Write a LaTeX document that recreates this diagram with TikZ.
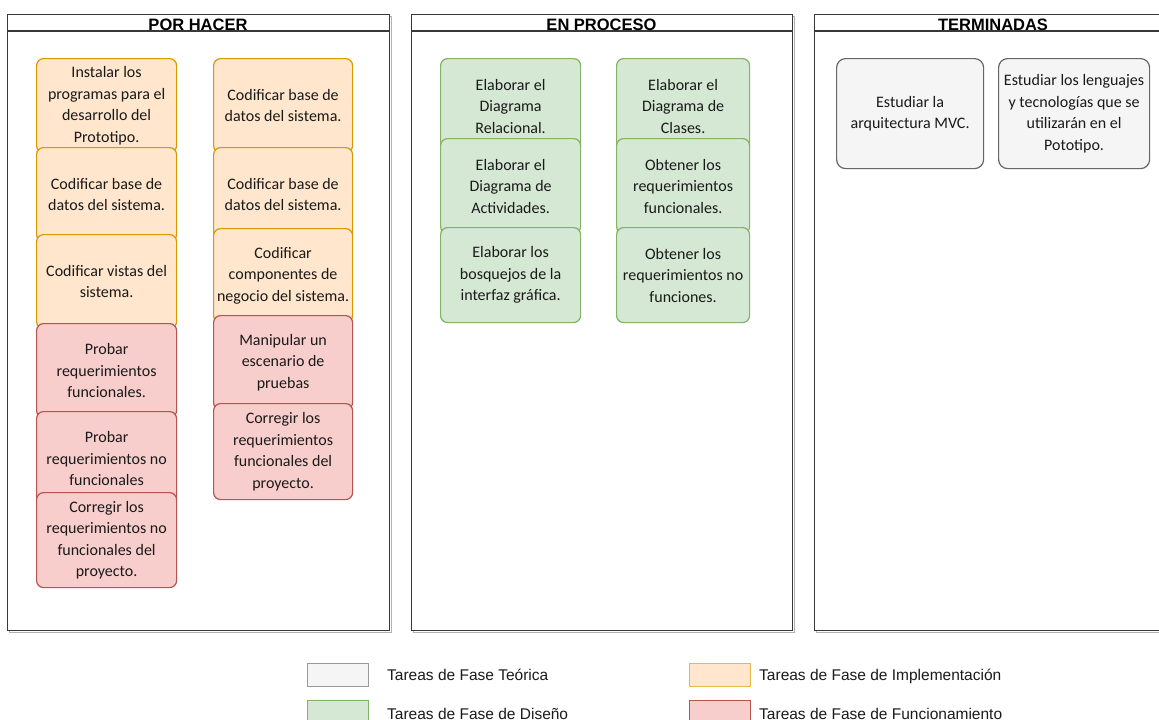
\documentclass[tikz,border=0pt]{standalone}
\usepackage{fontspec}
\setmainfont{Carlito}
\newfontfamily\arialf{Liberation Sans}
\definecolor{impF}{HTML}{FFE6CC}\definecolor{impD}{HTML}{D79B00}
\definecolor{desF}{HTML}{D5E8D4}\definecolor{desD}{HTML}{82B366}
\definecolor{funF}{HTML}{F8CECC}\definecolor{funD}{HTML}{B85450}
\definecolor{teoF}{HTML}{F5F5F5}\definecolor{teoD}{HTML}{666666}
\definecolor{txt}{HTML}{1A1A1A}
\tikzset{
  card/.style={rounded corners=7pt, line width=1.2pt, inner sep=0pt, align=center,
    anchor=north west, text=txt, font=\fontsize{16}{21.5}\selectfont},
  impl/.style={card, fill=impF, draw=impD},
  desi/.style={card, fill=desF, draw=desD},
  func/.style={card, fill=funF, draw=funD},
  teo/.style={card, fill=teoF, draw=teoD, rounded corners=9pt},
  panel/.style={draw=black!78, line width=1.1pt, fill=white, inner sep=0pt, anchor=north west},
  shadowp/.style={draw=black!30, line width=1.2pt, inner sep=0pt, anchor=north west},
  head/.style={font=\arialf\bfseries\fontsize{16.5}{18}\selectfont, anchor=base, inner sep=0pt},
  swatch/.style={line width=1pt, inner sep=0pt, anchor=north west, minimum width=61pt, minimum height=23pt},
  legtxt/.style={font=\arialf\fontsize{15.5}{18}\selectfont, anchor=base west, inner sep=0pt, text=txt},
}
\begin{document}
\begin{tikzpicture}[x=1pt,y=-1pt]
\useasboundingbox (0,0) rectangle (1159,720);
\clip (0,0) rectangle (1159,720);
% panels
\node[shadowp, minimum width=382pt, minimum height=616pt] (shA) at (8.5,15.5) {};
\node[shadowp, minimum width=381pt, minimum height=616pt] (shB) at (412.5,15.5) {};
\node[shadowp, minimum width=358pt, minimum height=616pt] (shC) at (815.5,15.5) {};
\node[panel, minimum width=382pt, minimum height=616pt] (colA) at (7,14) {};
\node[panel, minimum width=381pt, minimum height=616pt] (colB) at (411,14) {};
\node[panel, minimum width=358pt, minimum height=616pt] (colC) at (814,14) {};
\coordinate (hA1) at (7,31); \coordinate (hA2) at (389,31);
\coordinate (hB1) at (411,31); \coordinate (hB2) at (792,31);
\coordinate (hC1) at (814,31); \coordinate (hC2) at (1172,31);
\draw[draw=black!78, line width=1.1pt] (hA1) -- (hA2);
\draw[draw=black!78, line width=1.1pt] (hB1) -- (hB2);
\draw[draw=black!78, line width=1.1pt] (hC1) -- (hC2);
\node[head] (tA) at (198,30) {POR HACER};
\node[head] (tB) at (601.5,30) {EN PROCESO};
\node[head] (tC) at (993,30) {TERMINADAS};
% POR HACER col 1
\node[impl, minimum width=140pt, minimum height=94pt] (a1) at (36,58) {Instalar los\\programas para el\\desarrollo del\\Prototipo.};
\node[impl, minimum width=140pt, minimum height=94pt] (a2) at (36,147) {Codificar base de\\datos del sistema.};
\node[impl, minimum width=140pt, minimum height=94pt] (a3) at (36,234) {Codificar vistas del\\sistema.};
\node[func, minimum width=140pt, minimum height=94pt] (a4) at (36,323) {Probar\\requerimientos\\funcionales.};
\node[func, minimum width=140pt, minimum height=94pt] (a5) at (36,411) {Probar\\requerimientos no\\funcionales};
\node[func, minimum width=140pt, minimum height=95pt] (a6) at (36,492) {Corregir los\\requerimientos no\\funcionales del\\proyecto.};
% POR HACER col 2
\node[impl, minimum width=139pt, minimum height=94pt] (b1) at (213,58) {Codificar base de\\datos del sistema.};
\node[impl, minimum width=139pt, minimum height=94pt] (b2) at (213,147) {Codificar base de\\datos del sistema.};
\node[impl, minimum width=139pt, minimum height=94pt] (b3) at (213,228) {Codificar\\componentes de\\negocio del sistema.};
\node[func, minimum width=139pt, minimum height=94pt] (b4) at (213,315) {Manipular un\\escenario de\\pruebas};
\node[func, minimum width=139pt, minimum height=96pt] (b5) at (213,403) {Corregir los\\requerimientos\\funcionales del\\proyecto.};
% EN PROCESO
\node[desi, minimum width=140pt, minimum height=95pt] (c1) at (440,58) {Elaborar el\\Diagrama\\Relacional.};
\node[desi, minimum width=140pt, minimum height=95pt] (c2) at (440,138) {Elaborar el\\Diagrama de\\Actividades.};
\node[desi, minimum width=140pt, minimum height=95pt] (c3) at (440,227) {Elaborar los\\bosquejos de la\\interfaz gráfica.};
\node[desi, minimum width=133pt, minimum height=95pt] (d1) at (616,58) {Elaborar el\\Diagrama de\\Clases.};
\node[desi, minimum width=133pt, minimum height=95pt] (d2) at (616,138) {Obtener los\\requerimientos\\funcionales.};
\node[desi, minimum width=133pt, minimum height=95pt] (d3) at (616,227) {Obtener los\\requerimientos no\\funciones.};
% TERMINADAS
\node[teo, minimum width=147pt, minimum height=110pt] (e1) at (836,58) {Estudiar la\\arquitectura MVC.};
\node[teo, minimum width=151pt, minimum height=110pt] (e2) at (998,58) {Estudiar los lenguajes\\y tecnologías que se\\utilizarán en el\\Pototipo.};
% legend
\node[swatch, fill=teoF, draw=black!40] (s1) at (307,663) {};
\node[swatch, fill=desF, draw=desD] (s2) at (307,700) {};
\node[swatch, fill=impF, draw=impD!70] (s3) at (689,663) {};
\node[swatch, fill=funF, draw=funD] (s4) at (689,700) {};
\node[legtxt] (l1) at (387,680) {Tareas de Fase Teórica};
\node[legtxt] (l2) at (387,719) {Tareas de Fase de Diseño};
\node[legtxt] (l3) at (759,680) {Tareas de Fase de Implementación};
\node[legtxt] (l4) at (759,719) {Tareas de Fase de Funcionamiento};
\end{tikzpicture}
\end{document}
